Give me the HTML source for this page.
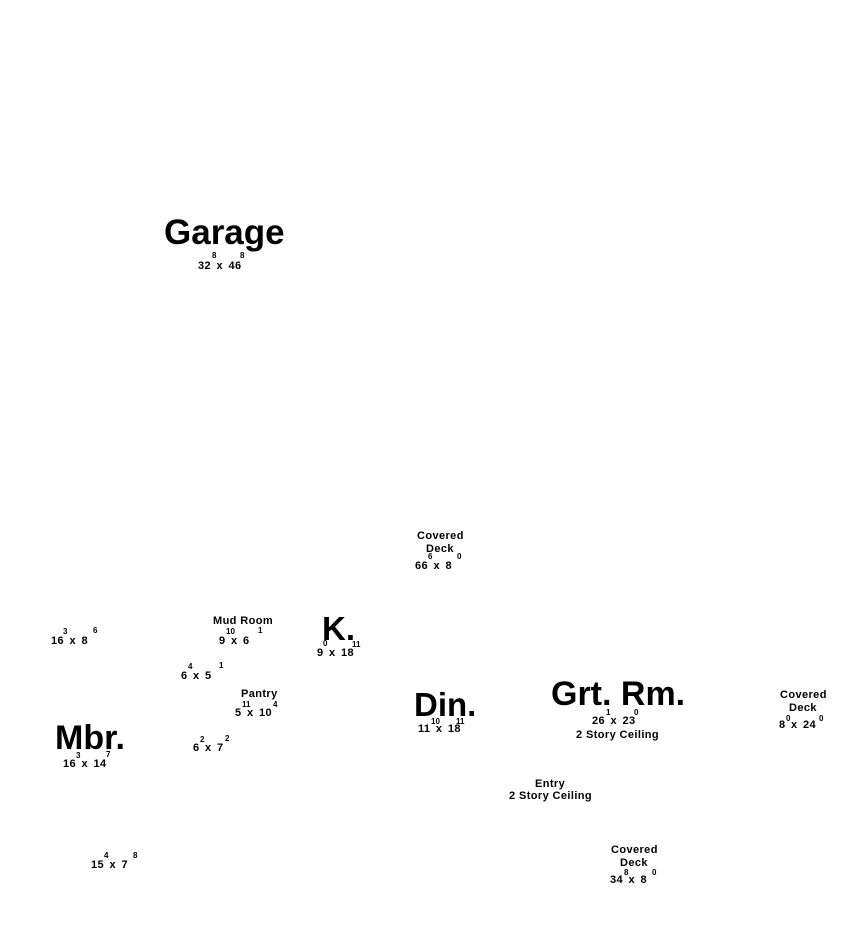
<!DOCTYPE html>
<html><head><meta charset="utf-8"><style>
html,body{margin:0;padding:0;background:#fff;}
body{width:842px;height:934px;position:relative;overflow:hidden;font-family:"Liberation Sans",sans-serif;font-weight:bold;color:#000;}
div{position:absolute;white-space:pre;line-height:1;}
.t{font-size:11px;letter-spacing:0.4px;}
.d{word-spacing:2px;}
.s{font-size:8px;}
.b{letter-spacing:0;}
</style></head><body>
<div class="b" style="left:164px;top:215px;font-size:35px">Garage</div>
<div class="t d" style="left:198px;top:261px">32 x 46</div>
<div class="s" style="left:212px;top:252px">8</div><div class="s" style="left:240px;top:252px">8</div>

<div class="t d" style="left:51px;top:636px">16 x 8</div>
<div class="s" style="left:63px;top:628px">3</div><div class="s" style="left:93px;top:627px">6</div>

<div class="t" style="left:213px;top:616px">Mud Room</div>
<div class="t d" style="left:219px;top:636px">9 x 6</div>
<div class="s" style="left:226px;top:628px">10</div><div class="s" style="left:258px;top:627px">1</div>

<div class="b" style="left:322px;top:612px;font-size:33px">K.</div>
<div class="t d" style="left:317px;top:648px">9 x 18</div>
<div class="s" style="left:323px;top:640px">0</div><div class="s" style="left:352px;top:641px">11</div>

<div class="t d" style="left:181px;top:671px">6 x 5</div>
<div class="s" style="left:188px;top:663px">4</div><div class="s" style="left:219px;top:662px">1</div>

<div class="t" style="left:241px;top:689px">Pantry</div>
<div class="t d" style="left:235px;top:708px">5 x 10</div>
<div class="s" style="left:242px;top:701px">11</div><div class="s" style="left:273px;top:701px">4</div>

<div class="b" style="left:55px;top:721px;font-size:34px">Mbr.</div>
<div class="t d" style="left:63px;top:759px">16 x 14</div>
<div class="s" style="left:76px;top:752px">3</div><div class="s" style="left:106px;top:751px">7</div>

<div class="t d" style="left:193px;top:743px">6 x 7</div>
<div class="s" style="left:200px;top:736px">2</div><div class="s" style="left:225px;top:735px">2</div>

<div class="t d" style="left:91px;top:860px">15 x 7</div>
<div class="s" style="left:104px;top:852px">4</div><div class="s" style="left:133px;top:852px">8</div>

<div class="t" style="left:417px;top:531px">Covered</div>
<div class="t" style="left:426px;top:544px">Deck</div>
<div class="t d" style="left:415px;top:561px">66 x 8</div>
<div class="s" style="left:428px;top:553px">6</div><div class="s" style="left:457px;top:553px">0</div>

<div class="b" style="left:414px;top:688px;font-size:33px">Din.</div>
<div class="t d" style="left:418px;top:724px">11 x 18</div>
<div class="s" style="left:431px;top:718px">10</div><div class="s" style="left:456px;top:718px">11</div>

<div class="b" style="left:551px;top:677px;font-size:34px">Grt. Rm.</div>
<div class="t d" style="left:592px;top:716px">26 x 23</div>
<div class="s" style="left:606px;top:709px">1</div><div class="s" style="left:634px;top:709px">0</div>
<div class="t" style="left:576px;top:730px">2 Story Ceiling</div>

<div class="t" style="left:780px;top:690px">Covered</div>
<div class="t" style="left:789px;top:703px">Deck</div>
<div class="t d" style="left:779px;top:720px">8 x 24</div>
<div class="s" style="left:786px;top:715px">0</div><div class="s" style="left:819px;top:715px">0</div>

<div class="t" style="left:535px;top:779px">Entry</div>
<div class="t" style="left:509px;top:791px">2 Story Ceiling</div>

<div class="t" style="left:611px;top:845px">Covered</div>
<div class="t" style="left:620px;top:858px">Deck</div>
<div class="t d" style="left:610px;top:875px">34 x 8</div>
<div class="s" style="left:624px;top:869px">8</div><div class="s" style="left:652px;top:869px">0</div>
</body></html>
